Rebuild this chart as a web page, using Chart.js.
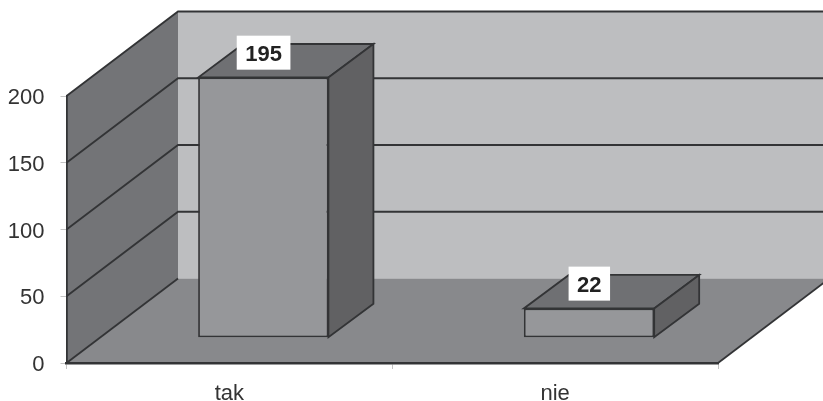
<!DOCTYPE html>
<html>
<head>
<meta charset="utf-8">
<style>
  html, body { margin: 0; padding: 0; background: #fff; }
  canvas { display: block; }
</style>
<script src="https://cdn.jsdelivr.net/npm/chart.js@4/dist/chart.umd.min.js"></script>
</head>
<body>
<canvas id="chart" width="823" height="401"></canvas>
<script>
const categories = ['tak', 'nie'];
const answers = [195, 22];
const yMax = 200;
const yStep = 50;

// depth of the walls and of the bars, as screen offsets
const wallDx = 111.5, wallDy = -84.5;
const barDepthDx = 45, barDepthDy = -33.5;
const barShiftDx = 33.9, barShiftDy = -25.2;

const line = '#333436';

function poly(ctx, pts, fill, stroke) {
  ctx.beginPath();
  pts.forEach((p, i) => i ? ctx.lineTo(p[0], p[1]) : ctx.moveTo(p[0], p[1]));
  ctx.closePath();
  if (fill) { ctx.fillStyle = fill; ctx.fill(); }
  if (stroke) { ctx.strokeStyle = stroke; ctx.lineWidth = 1.8; ctx.stroke(); }
}

const room = {
  id: 'room',
  afterLayout(chart) {
    // the reference digits sit a little below their tick
    chart.scales.y.getLabelItems().forEach(item => { item.textOffset += 2; });
  },
  beforeDraw(chart) {
    const { ctx, chartArea: a, scales: { y } } = chart;
    const bx = a.left + wallDx, by = a.bottom + wallDy, ty = a.top + wallDy;
    const rx = a.right + wallDx;
    ctx.save();
    poly(ctx, [[bx, ty], [rx, ty], [rx, by], [bx, by]], '#bdbec0');
    poly(ctx, [[a.left, a.bottom], [a.right, a.bottom], [rx, by], [bx, by]], '#88898c');
    poly(ctx, [[a.left, a.top], [bx, ty], [bx, by], [a.left, a.bottom]], '#737477');

    ctx.strokeStyle = line;
    ctx.lineWidth = 1.8;
    y.ticks.forEach(t => {
      const py = y.getPixelForValue(t.value);
      ctx.beginPath();
      ctx.moveTo(a.left, py);
      ctx.lineTo(bx, py + wallDy);
      if (t.value > 0) ctx.lineTo(rx, py + wallDy);
      ctx.stroke();
    });
    ctx.beginPath();
    ctx.moveTo(a.right, a.bottom);
    ctx.lineTo(rx, by);
    ctx.stroke();
    ctx.restore();
  },
  beforeDatasetsDraw(chart) {
    const { ctx } = chart;
    ctx.save();
    ctx.translate(barShiftDx, barShiftDy);
    chart.getDatasetMeta(0).data.forEach(bar => {
      const l = bar.x - bar.width / 2, r = bar.x + bar.width / 2;
      const t = bar.y, b = bar.base;
      poly(ctx, [[l, t], [r, t], [r + barDepthDx, t + barDepthDy], [l + barDepthDx, t + barDepthDy]], '#6f7073', line);
      poly(ctx, [[r, t], [r + barDepthDx, t + barDepthDy], [r + barDepthDx, b + barDepthDy], [r, b]], '#616163', line);
    });
  },
  afterDatasetsDraw(chart) {
    const { ctx } = chart;
    ctx.restore();
    ctx.save();
    ctx.font = 'bold 22px "Liberation Sans", Arial, sans-serif';
    ctx.textAlign = 'center';
    ctx.textBaseline = 'middle';
    chart.getDatasetMeta(0).data.forEach((bar, i) => {
      const text = String(answers[i]);
      const cx = bar.x + barShiftDx + 0.3;
      const cy = bar.y + barShiftDy - 24.8;
      const w = ctx.measureText(text).width + 17;
      ctx.fillStyle = '#fff';
      ctx.fillRect(cx - w / 2, cy - 17, w, 34);
      ctx.fillStyle = '#222';
      ctx.fillText(text, cx, cy + 2);
    });
    ctx.restore();
  }
};

new Chart(document.getElementById('chart'), {
  type: 'bar',
  data: {
    labels: categories,
    datasets: [{
      data: answers,
      backgroundColor: '#96979a',
      borderColor: line,
      borderWidth: 1.8,
      borderSkipped: false,
      barPercentage: 1,
      categoryPercentage: 0.4,
      clip: false
    }]
  },
  options: {
    responsive: false,
    animation: false,
    layout: { padding: { top: 96, right: 105, left: 0, bottom: 0 } },
    plugins: { legend: { display: false }, tooltip: { enabled: false } },
    scales: {
      x: {
        afterFit: s => { s.height = 38; },
        grid: { drawOnChartArea: false, color: '#c4c4c4', tickLength: 6 },
        border: { color: line, width: 2.5 },
        ticks: { color: '#333', padding: 12, maxRotation: 0, font: { family: '"Liberation Sans", Arial, sans-serif', size: 22 } }
      },
      y: {
        min: 0,
        max: yMax,
        afterFit: s => { s.width = 66.5; },
        grid: { drawOnChartArea: false, color: '#c4c4c4', tickLength: 6 },
        border: { color: line, width: 1.8 },
        ticks: { stepSize: yStep, color: '#333', padding: 16, font: { family: '"Liberation Sans", Arial, sans-serif', size: 22 } }
      }
    }
  },
  plugins: [room]
});
</script>
</body>
</html>
